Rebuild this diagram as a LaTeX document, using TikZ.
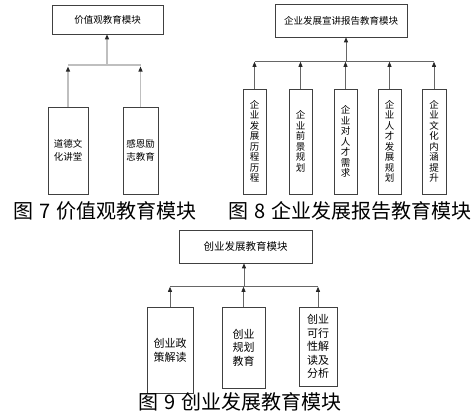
\documentclass[tikz,border=0pt]{standalone}
\usepackage{fontspec}
\setmainfont{Liberation Serif}
\newfontfamily\cjk{Noto Sans CJK SC}
\usetikzlibrary{arrows.meta,calc}
\begin{document}
\begin{tikzpicture}[x=1pt,y=-1pt,
  bx/.style={draw=black!75,line width=0.6pt,inner sep=0pt,align=center,font=\cjk\fontsize{9.5}{12.5}\selectfont},
  ln7/.style={draw=black!25,line width=1.2pt},
  ln/.style={draw=black!60,line width=0.7pt},
  arr/.style={-{Triangle[length=5pt,width=4pt,color=black!85]}},
  captxt/.style={font=\cjk\fontsize{20}{22}\selectfont,inner sep=0pt},
  vt/.style={bx,font=\cjk\fontsize{9.5}{10.5}\selectfont}]
\useasboundingbox (0,0) rectangle (473,416);
% ---------- Fig 7 ----------
\node[bx,minimum width=111pt,minimum height=29pt] (t7) at (107.5,19.5) {价值观教育模块};
\node[bx,minimum width=40pt,minimum height=87pt] (a7) at (68,150.5) {道德文\\化讲堂};
\node[bx,minimum width=35pt,minimum height=87pt] (b7) at (140.5,150.5) {感恩励\\志教育};
\coordinate (h7) at (107,65);
\draw[ln7] (a7.north |- h7) -- (b7.north |- h7);
\draw[ln7,arr] (h7) -- (t7.south -| h7);
\draw[ln7,arr] (a7.north) -- ($(a7.north |- h7)+(0,1.5)$);
\draw[ln7,arr] (b7.north) -- ($(b7.north |- h7)+(0,1.5)$);
% ---------- Fig 8 ----------
\node[bx,minimum width=132pt,minimum height=33pt] (t8) at (341,20.5) {企业发展宣讲报告教育模块};
\node[vt,minimum width=23pt,minimum height=105pt] (a8) at (254.5,141.5) {企\\业\\发\\展\\历\\程\\历\\程};
\node[vt,minimum width=23pt,minimum height=105pt] (b8) at (300.5,141.5) {企\\业\\前\\景\\规\\划};
\node[vt,minimum width=23pt,minimum height=105pt] (c8) at (345.5,141.5) {企\\业\\对\\人\\才\\需\\求};
\node[vt,minimum width=23pt,minimum height=105pt] (d8) at (389.5,141.5) {企\\业\\人\\才\\发\\展\\规\\划};
\node[vt,minimum width=24pt,minimum height=105pt] (e8) at (434,141.5) {企\\业\\文\\化\\内\\涵\\提\\升};
\coordinate (h8) at (346,61);
\draw[ln] (a8.north |- h8) -- (e8.north |- h8);
\draw[ln,arr] (h8) -- (t8.south -| h8);
\foreach \n in {a8,b8,c8,d8,e8}
  \draw[ln,arr] (\n.north) -- ($(\n.north |- h8)+(0,0.8)$);
% ---------- Fig 9 ----------
\node[bx,minimum width=133pt,minimum height=33pt,font=\cjk\fontsize{10.5}{13}\selectfont] (t9) at (245.5,246.5) {创业发展教育模块};
\node[bx,minimum width=46pt,minimum height=86pt,font=\cjk\fontsize{11}{14}\selectfont] (a9) at (170,350) {创业政\\策解读};
\node[bx,minimum width=43pt,minimum height=81pt,font=\cjk\fontsize{11}{13.5}\selectfont] (b9) at (243.5,347.5) {创业\\规划\\教育};
\node[bx,minimum width=38pt,minimum height=79pt,font=\cjk\fontsize{11}{13.5}\selectfont] (c9) at (318,346.5) {创业\\可行\\性解\\读及\\分析};
\coordinate (h9) at (244,286);
\draw[ln] (a9.north |- h9) -- (c9.north |- h9);
\draw[ln,arr] (h9) -- (t9.south -| h9);
\foreach \n in {a9,b9,c9}
  \draw[ln,arr] (\n.north) -- ($(\n.north |- h9)+(0,0.8)$);
% ---------- Captions ----------
\node[captxt,anchor=west] (c7) at (13,211) {图\hspace{6pt}7\hspace{6pt}价值观教育模块};
\node[captxt,anchor=west] (c8) at (228,211) {图\hspace{6pt}8\hspace{6pt}企业发展报告教育模块};
\node[captxt,anchor=west] (c9n) at (138,402) {图\hspace{6pt}9\hspace{6pt}创业发展教育模块};
\end{tikzpicture}
\end{document}
